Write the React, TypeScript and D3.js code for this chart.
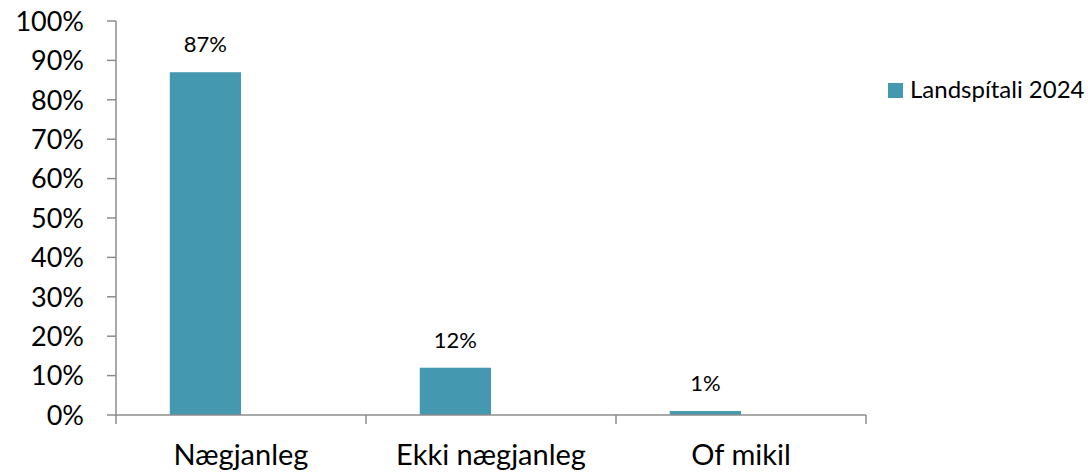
import React from "react";
import * as d3 from "d3";

const categories = ["Nægjanleg", "Ekki nægjanleg", "Of mikil"];
const values = [0.87, 0.12, 0.01];
const labels = ["87%", "12%", "1%"];
const seriesName = "Landspítali 2024";
const yTicks = [0, 0.1, 0.2, 0.3, 0.4, 0.5, 0.6, 0.7, 0.8, 0.9, 1.0];

const W = 1088;
const H = 472;
const FONT = "Lato, 'Open Sans', sans-serif";
const BAR = "#4499b0";
const AXIS = "#8c8c8c";

export default function App() {
  const x0 = 116, x1 = 866, yTop = 21, yBot = 415;
  const x = d3.scaleBand<string>().domain(categories).range([x0, x1]).paddingInner(0).paddingOuter(0);
  // two series slots per category (second empty), Excel gap width
  const sub = d3.scaleBand<string>().domain(["a", "b"]).range([0, x.bandwidth()]).paddingInner(0).paddingOuter(0.755);
  const y = d3.scaleLinear().domain([0, 1]).range([yBot, yTop]);
  const fmt = d3.format(".0%");
  const boundaries = [...categories.map((c) => x(c)!), x1];
  return (
    <svg width={W} height={H} style={{ position: "absolute", left: 0, top: 0, background: "#fff" }}>
      {/* y axis */}
      <line x1={x0} x2={x0} y1={y(1)} y2={y(0)} stroke={AXIS} strokeWidth={1.5} />
      {yTicks.map((t) => (
        <g key={t}>
          <line x1={x0 - 9} x2={x0} y1={y(t)} y2={y(t)} stroke={AXIS} strokeWidth={1.5} />
          <text x={84} y={y(t)} dy="0.36em" textAnchor="end" fontFamily={FONT} fontSize={27} fill="#000">
            {fmt(t)}
          </text>
        </g>
      ))}
      {/* bars */}
      {categories.map((c, i) => {
        const bx = x(c)! + sub("a")!;
        const bw = sub.bandwidth();
        return (
          <g key={c}>
            <rect x={bx} y={y(values[i])} width={bw} height={y(0) - y(values[i])} fill={BAR} />
            <text x={bx + bw / 2} y={y(values[i]) - 20} textAnchor="middle" fontFamily={FONT} fontSize={22} fill="#000">
              {labels[i]}
            </text>
            <text x={x(c)! + x.bandwidth() / 2} y={465} textAnchor="middle" fontFamily={FONT} fontSize={29} fill="#000">
              {c}
            </text>
          </g>
        );
      })}
      {/* x axis */}
      <line x1={x0} x2={x1} y1={y(0)} y2={y(0)} stroke={AXIS} strokeWidth={1.5} />
      {boundaries.map((b, i) => (
        <line key={i} x1={b} x2={b} y1={y(0)} y2={y(0) + 9} stroke={AXIS} strokeWidth={1.5} />
      ))}
      {/* legend */}
      <rect x={888} y={83} width={15} height={15} fill={BAR} />
      <text x={910} y={98} fontFamily={FONT} fontSize={24} fill="#000">{seriesName}</text>
    </svg>
  );
}
